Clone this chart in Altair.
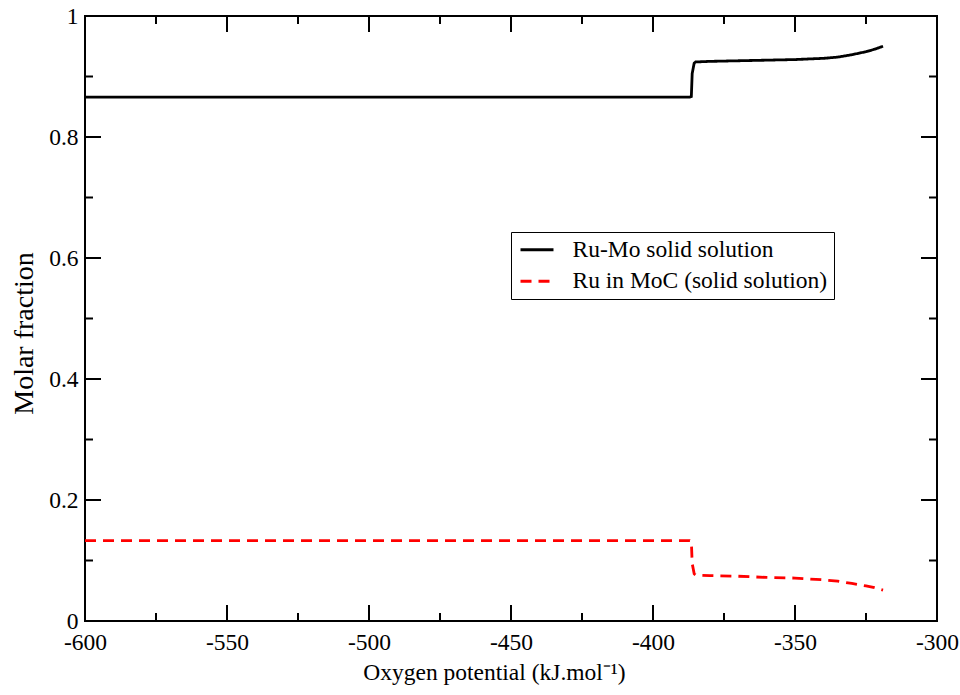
import altair as alt
import pandas as pd

# Oxygen potential (kJ/mol)
x_vals = [-600, -500, -450, -400, -387, -386.5, -386.2, -385.5, -385, -380, -370, -360, -350, -340, -335, -330, -325, -322, -319]
ru_mo = [0.866, 0.866, 0.866, 0.866, 0.866, 0.867, 0.905, 0.922, 0.924, 0.925, 0.926, 0.927, 0.928, 0.930, 0.932, 0.936, 0.941, 0.945, 0.950]
ru_moc = [0.133, 0.133, 0.133, 0.133, 0.133, 0.132, 0.095, 0.078, 0.076, 0.075, 0.074, 0.072, 0.071, 0.068, 0.066, 0.062, 0.058, 0.055, 0.051]
series_names = ["Ru-Mo solid solution", "Ru in MoC (solid solution)"]

x_major = [-600, -550, -500, -450, -400, -350, -300]
x_minor = [-575, -525, -475, -425, -375, -325]
y_major = [0, 0.2, 0.4, 0.6, 0.8, 1]
y_minor = [0.1, 0.3, 0.5, 0.7, 0.9]

W, H = 852, 605
FONT = "Liberation Serif"

df = pd.concat([
    pd.DataFrame({"x": x_vals, "y": ru_mo, "s": series_names[0], "o": range(len(x_vals))}),
    pd.DataFrame({"x": x_vals, "y": ru_moc, "s": series_names[1], "o": range(len(x_vals))}),
])

xscale = alt.Scale(domain=[-600, -300], nice=False, zero=False)
yscale = alt.Scale(domain=[0, 1], nice=False, zero=False)

xaxis = alt.Axis(values=x_major, labelExpr="'' + datum.value", ticks=False, domain=False, grid=False,
                 labelFont=FONT, labelFontSize=23.5, labelColor="black", labelPadding=9,
                 labelFlush=False, labelOverlap=False,
                 title="Oxygen potential (kJ.mol⁻¹)", titleFont=FONT, titleFontSize=23.5,
                 titleFontWeight="normal", titleColor="black", titlePadding=7, titleX=409)
yaxis = alt.Axis(values=y_major, format="~g", ticks=False, domain=False, grid=False,
                 labelFont=FONT, labelFontSize=23.5, labelColor="black", labelPadding=7,
                 labelFlush=False, labelOverlap=False,
                 title="Molar fraction", titleFont=FONT, titleFontSize=28,
                 titleFontWeight="normal", titleColor="black", titlePadding=10, titleY=317)

lines = alt.Chart(df).mark_line(strokeWidth=2.8, interpolate="linear").encode(
    x=alt.X("x:Q", scale=xscale, axis=xaxis),
    y=alt.Y("y:Q", scale=yscale, axis=yaxis),
    color=alt.Color("s:N", scale=alt.Scale(domain=series_names, range=["black", "#ff0000"]),
                    legend=alt.Legend(orient="none", legendX=426, legendY=216, title=None,
                                      symbolType="M-1,0H3", symbolSize=272, symbolStrokeWidth=2.8,
                                      labelFont=FONT, labelFontSize=23.5, labelColor="black",
                                      labelOffset=32, labelLimit=600, rowPadding=6.5,
                                      strokeColor="black", fillColor="white", padding=6)),
    strokeDash=alt.StrokeDash("s:N", scale=alt.Scale(domain=series_names, range=[[1, 0], [11, 7]]),
                              legend=alt.Legend(orient="none", legendX=426, legendY=216, title=None)),
    order="o:Q",
)

def xticks(vals, length, top):
    d = pd.DataFrame({"x": vals})
    if top:
        yv, y2v = 0, length
    else:
        yv, y2v = H, H - length
    return alt.Chart(d).mark_rule(color="black", strokeWidth=2).encode(
        x=alt.X("x:Q", scale=xscale, axis=xaxis), y=alt.value(yv), y2=alt.value(y2v))

def yticks(vals, length, right):
    d = pd.DataFrame({"y": vals})
    if right:
        xv, x2v = W, W - length
    else:
        xv, x2v = 0, length
    return alt.Chart(d).mark_rule(color="black", strokeWidth=2).encode(
        y=alt.Y("y:Q", scale=yscale, axis=yaxis), x=alt.value(xv), x2=alt.value(x2v))

tick_layers = [
    xticks(x_major, 16, False), xticks(x_minor, 8, False),
    xticks(x_major, 16, True), xticks(x_minor, 8, True),
    yticks(y_major, 16, False), yticks(y_minor, 8, False),
    yticks(y_major, 16, True), yticks(y_minor, 8, True),
]

chart = alt.layer(*tick_layers, lines).properties(
    width=W, height=H,
    padding={"left": 85, "top": 16, "right": 23, "bottom": 74},
    autosize=alt.AutoSizeParams(type="none"),
    background="white",
).configure_view(stroke="black", strokeWidth=2)

chart.save("out.html", embed_options={"renderer": "svg", "actions": False})
